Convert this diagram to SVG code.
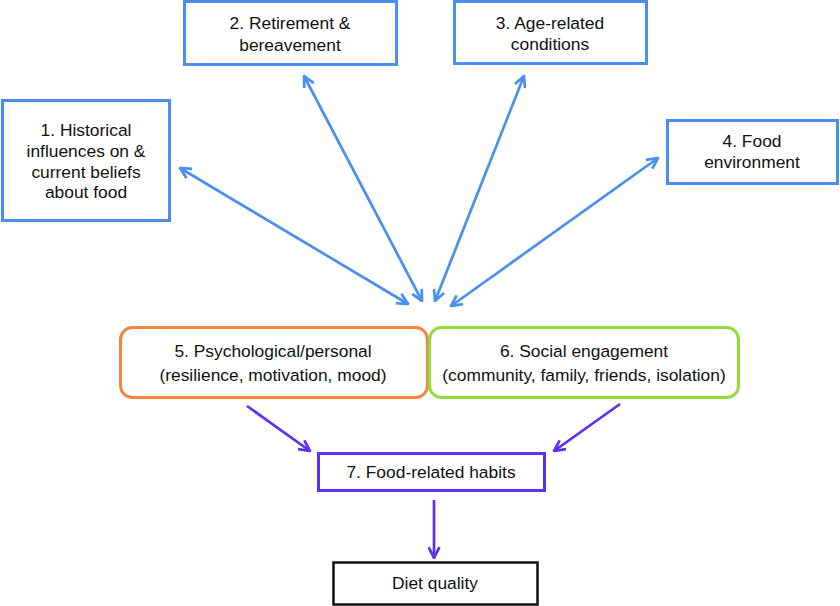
<svg xmlns="http://www.w3.org/2000/svg" width="840" height="606" viewBox="0 0 840 606">
<defs>
<style>
text{font-family:"Liberation Sans",Arial,sans-serif;font-size:17.4px;fill:#111;text-anchor:middle}
.blue{fill:#fff;stroke:#4a8ff0;stroke-width:3}
.cb{fill:none;stroke:#4a8ff0;stroke-width:2.7}
.cp{fill:none;stroke:#5f2ff5;stroke-width:2.7}
</style>
<marker id="hb" viewBox="0 0 12 12" refX="11" refY="6" markerWidth="13" markerHeight="13" markerUnits="userSpaceOnUse" orient="auto-start-reverse">
<path d="M1,1 L11,6 L1,11" fill="none" stroke="#4a8ff0" stroke-width="2.5" stroke-linejoin="miter"/>
</marker>
<marker id="hp" viewBox="0 0 12 12" refX="11" refY="6" markerWidth="13" markerHeight="13" markerUnits="userSpaceOnUse" orient="auto">
<path d="M1,1 L11,6 L1,11" fill="none" stroke="#5f2ff5" stroke-width="2.5"/>
</marker>
</defs>
<rect width="840" height="606" fill="#fff"/>
<g id="connectors">
<line class="cb" x1="180" y1="168" x2="408" y2="304" marker-start="url(#hb)" marker-end="url(#hb)"/>
<line class="cb" x1="304" y1="76" x2="422" y2="301" marker-start="url(#hb)" marker-end="url(#hb)"/>
<line class="cb" x1="524" y1="76" x2="435" y2="301" marker-start="url(#hb)" marker-end="url(#hb)"/>
<line class="cb" x1="658" y1="158" x2="451" y2="306" marker-start="url(#hb)" marker-end="url(#hb)"/>
<line class="cp" x1="247" y1="406" x2="310" y2="451" marker-end="url(#hp)"/>
<line class="cp" x1="620" y1="404" x2="554" y2="451" marker-end="url(#hp)"/>
<line class="cp" x1="434" y1="500" x2="434" y2="558" marker-end="url(#hp)"/>
</g>
<g id="n1"><rect class="blue" x="2.5" y="100.5" width="167" height="120"/>
<text x="86" y="136">1. Historical</text><text x="86" y="157">influences on &amp;</text><text x="86" y="178">current beliefs</text><text x="86" y="198">about food</text></g>
<g id="n2"><rect class="blue" x="184.5" y="1.5" width="212" height="63"/>
<text x="290" y="29">2. Retirement &amp;</text><text x="290" y="51">bereavement</text></g>
<g id="n3"><rect class="blue" x="454.5" y="1.5" width="192" height="62"/>
<text x="550" y="29">3. Age-related</text><text x="550" y="50">conditions</text></g>
<g id="n4"><rect class="blue" x="667.5" y="120.5" width="170" height="63"/>
<text x="752" y="147">4. Food</text><text x="752" y="168">environment</text></g>
<g id="n5"><rect x="120.5" y="327.5" width="307" height="70" rx="12" fill="#fff" stroke="#f5853a" stroke-width="3"/>
<text x="273" y="357">5. Psychological/personal</text><text x="273" y="381">(resilience, motivation, mood)</text></g>
<g id="n6"><rect x="429.5" y="327.5" width="309" height="70" rx="12" fill="#fff" stroke="#8fdc3b" stroke-width="3"/>
<text x="584" y="357">6. Social engagement</text><text x="584" y="381">(community, family, friends, isolation)</text></g>
<g id="n7"><rect x="318.5" y="453.5" width="226" height="37" fill="#fff" stroke="#5f2ff5" stroke-width="3"/>
<text x="431" y="478">7. Food-related habits</text></g>
<g id="n8"><rect x="333.5" y="562.5" width="204" height="42" fill="#fff" stroke="#111" stroke-width="2.5"/>
<text x="435" y="589">Diet quality</text></g>
</svg>
